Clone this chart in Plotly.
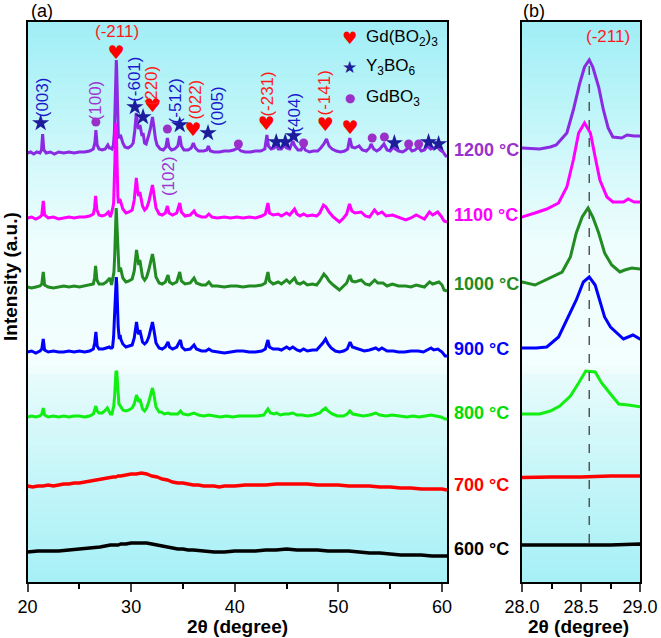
import plotly.graph_objects as go

# ---------------- data (2theta in degree, intensity in a.u. above each pattern's own baseline) -------------
temps = ["1200", "1100", "1000", "900", "800", "700", "600"]
offsets = [429, 364, 295, 230, 166, 94, 30]   # vertical stacking offsets (a.u.)

xrd_1200 = [(20.0,0),(20.3,1),(20.6,-1),(20.9,1),(21.2,0),(21.35,3),(21.46,19),(21.58,3),(21.8,0),(22.2,1),(22.6,-1),(23.0,1),(23.5,0),(24.0,1),(24.5,0),(25.0,1),(25.5,1),(26.0,2),(26.35,4),(26.5,10),(26.6,23),(26.72,8),(26.9,4),(27.2,3),(27.5,4),(27.75,8),(27.9,5),
(28.0,5),(28.15,4),(28.24,6),(28.29,8),(28.38,20),(28.435,43),(28.49,70),(28.53,86),(28.57,93),(28.60,86),(28.65,66),(28.69,43),(28.73,25),(28.77,16),(28.845,15),(28.89,18),(28.95,17),(29.0,17),
(29.2,10),(29.4,6),(29.7,5),(30.0,7),(30.2,10),(30.35,22),(30.5,40),(30.6,30),(30.7,24),(30.85,28),(30.95,22),(31.05,17),(31.15,20),(31.3,10),(31.45,9),(31.6,16),(31.7,18),(31.85,24),(32.0,34),(32.06,36),(32.2,26),(32.35,14),(32.5,8),(32.8,4),(33.1,3),(33.35,6),(33.5,15),(33.65,6),(33.9,3),(34.2,4),(34.5,7),(34.69,17),(34.85,7),(35.1,3),(35.5,3),(35.8,5),(36.0,10),(36.2,5),(36.5,2),(37.0,2),(37.3,3),(37.45,7),(37.65,2),(38.0,1),(38.5,1),(39.0,2),(39.5,2),(39.9,3),(40.3,5),(40.6,2),(41.0,1),(41.5,1),(42.0,2),(42.5,2),(42.9,4),(43.1,18),(43.25,7),(43.5,4),(43.8,5),(44.0,8),(44.2,4),(44.5,4),(44.8,8),(45.0,5),(45.3,4),(45.6,12),(45.8,7),(46.1,3),(46.4,3),(46.6,8),(46.8,3),(47.2,1),(47.6,2),(48.0,2),(48.3,5),(48.6,9),(48.85,14),(49.1,7),(49.4,4),(49.8,2),(50.2,1),(50.6,2),(50.9,4),(51.1,15),(51.3,6),(51.6,5),(52.0,7),(52.3,3),(52.7,2),(53.0,5),(53.15,9),(53.4,4),(53.7,2),(54.0,4),(54.4,9),(54.7,3),(55.0,2),(55.3,6),(55.5,4),(55.8,2),(56.2,1),(56.5,3),(56.8,6),(57.1,2),(57.4,3),(57.7,6),(58.0,2),(58.3,3),(58.6,7),(58.9,4),(59.2,5),(59.5,7),(59.8,3),(60.1,1),(60.3,-2),(60.48,-4)]

xrd_1100 = [(20.0,0),(20.4,1),(20.8,-1),(21.2,1),(21.38,3),(21.52,17),(21.65,3),(22.0,0),(22.5,1),(23.0,-1),(23.5,0),(24.0,1),(24.5,0),(25.0,1),(25.5,1),(26.0,2),(26.35,4),(26.47,10),(26.57,22),(26.7,8),(26.9,3),(27.2,2),(27.5,3),(27.8,6),
(28.0,1),(28.11,5),(28.21,9),(28.31,15),(28.38,31),(28.435,58),(28.48,85),(28.53,95),(28.58,85),(28.62,61),(28.66,38),(28.72,21),(28.77,16),(28.86,16),(28.90,19),(28.95,16),(29.0,16),
(29.2,9),(29.5,5),(29.8,6),(30.1,8),(30.3,18),(30.5,40),(30.62,28),(30.72,22),(30.84,26),(30.95,18),(31.1,12),(31.3,8),(31.5,10),(31.7,16),(31.9,26),(32.06,33),(32.2,24),(32.4,10),(32.7,4),(33.0,3),(33.3,5),(33.5,12),(33.65,5),(34.0,3),(34.4,5),(34.69,15),(34.85,6),(35.2,2),(35.7,3),(36.07,7),(36.3,3),(36.8,1),(37.2,1),(37.5,4),(37.8,1),(38.3,0),(39.0,1),(39.6,0),(40.2,1),(40.8,0),(41.4,1),(42.0,0),(42.6,2),(42.95,4),(43.2,15),(43.35,5),(43.7,3),(44.2,4),(44.5,2),(45.0,5),(45.3,3),(45.77,9),(46.0,4),(46.3,2),(46.64,4),(47.0,2),(47.5,3),(47.9,2),(48.2,5),(48.56,13),(48.8,11),(49.1,6),(49.5,1),(50.1,-4),(50.5,0),(50.8,4),(51.07,14),(51.3,7),(51.6,5),(52.2,6),(52.6,2),(53.0,1),(53.48,8),(53.8,4),(54.2,6),(54.6,2),(55.24,3),(55.8,1),(56.5,-2),(57.0,0),(57.5,3),(57.9,1),(58.3,-1),(58.78,6),(59.1,3),(59.58,6),(59.9,2),(60.2,-3),(60.48,-4)]

xrd_1000 = [(20.0,0),(20.4,-1),(20.8,0),(21.2,1),(21.38,3),(21.52,15),(21.65,2),(22.0,0),(22.5,-1),(23.0,0),(23.5,1),(24.0,0),(24.5,1),(25.0,0),(25.5,1),(26.0,2),(26.35,3),(26.47,9),(26.57,21),(26.7,7),(26.9,3),(27.3,3),(27.6,5),(27.95,9),
(28.0,5),(28.11,2),(28.24,9),(28.34,15),(28.41,30),(28.46,54),(28.51,70),(28.56,79),(28.60,70),(28.65,54),(28.70,34),(28.76,22),(28.83,15),(28.87,17),(28.93,19),(29.0,18),
(29.2,9),(29.5,5),(29.8,6),(30.1,8),(30.3,16),(30.52,37),(30.65,25),(30.74,22),(30.84,27),(30.95,18),(31.1,10),(31.3,7),(31.5,10),(31.7,17),(31.9,27),(32.06,33),(32.2,25),(32.4,10),(32.7,4),(33.0,3),(33.3,5),(33.56,12),(33.7,5),(34.0,3),(34.4,5),(34.69,15),(34.85,6),(35.2,3),(35.7,4),(36.07,9),(36.3,4),(36.8,2),(37.2,2),(37.5,5),(37.8,1),(38.3,1),(39.0,0),(39.6,1),(40.2,1),(40.8,0),(41.4,1),(42.0,1),(42.6,2),(42.95,4),(43.2,15),(43.35,6),(43.7,3),(44.2,5),(44.5,3),(45.0,7),(45.3,4),(45.77,9),(46.0,4),(46.3,3),(46.64,5),(47.0,2),(47.5,3),(47.9,2),(48.2,6),(48.6,13),(48.85,10),(49.1,6),(49.5,2),(50.1,-3),(50.5,1),(50.8,4),(51.1,12),(51.3,6),(51.6,5),(52.2,7),(52.6,3),(53.0,2),(53.5,7),(53.8,4),(54.3,4),(54.7,1),(55.2,3),(55.8,1),(56.5,1),(57.0,0),(57.5,2),(58.0,1),(58.3,0),(58.8,5),(59.1,3),(59.7,5),(60.0,2),(60.2,-3),(60.48,-4)]

xrd_900 = [(20.0,0),(20.4,1),(20.8,-1),(21.2,1),(21.38,3),(21.52,13),(21.65,2),(22.0,0),(22.5,1),(23.0,0),(23.5,0),(24.0,1),(24.5,0),(25.0,1),(25.5,0),(26.0,1),(26.35,3),(26.48,9),(26.6,20),(26.72,6),(26.9,3),(27.3,3),(27.6,4),(27.9,5),
(28.0,4),(28.12,4),(28.21,5),(28.31,15),(28.38,32),(28.46,52),(28.52,70),(28.57,75),(28.62,67),(28.66,52),(28.70,35),(28.75,25),(28.86,13),(28.94,17),(29.0,13),
(29.2,8),(29.5,5),(29.8,6),(30.1,7),(30.3,14),(30.52,30),(30.65,20),(30.74,18),(30.84,22),(30.95,15),(31.1,10),(31.3,8),(31.5,10),(31.7,15),(31.9,24),(32.06,30),(32.2,22),(32.4,9),(32.7,4),(33.0,3),(33.3,5),(33.56,10),(33.7,5),(34.0,3),(34.4,5),(34.76,12),(34.9,5),(35.2,2),(35.7,3),(36.07,7),(36.3,3),(36.8,1),(37.2,1),(37.5,3),(37.8,1),(38.3,0),(39.0,-1),(39.6,0),(40.2,1),(40.8,1),(41.4,0),(42.0,0),(42.6,1),(42.95,3),(43.2,12),(43.35,5),(43.7,3),(44.2,3),(44.5,2),(45.0,5),(45.3,3),(45.6,5),(46.0,2),(46.3,1),(46.64,3),(47.0,1),(47.5,2),(47.9,2),(48.2,5),(48.5,9),(48.76,13),(49.0,8),(49.3,4),(49.7,1),(50.1,0),(50.5,1),(50.85,3),(51.13,10),(51.35,5),(51.6,4),(52.0,3),(52.5,1),(53.0,2),(53.6,4),(53.9,2),(54.2,4),(54.7,1),(55.3,1),(55.8,0),(56.4,0),(57.0,1),(57.7,1),(58.2,0),(58.6,2),(58.94,4),(59.2,2),(59.6,3),(60.0,0),(60.3,-4),(60.48,-4)]

xrd_800 = [(20.0,-1),(20.4,0),(20.8,-1),(21.2,0),(21.38,2),(21.52,8),(21.65,1),(22.0,-1),(22.5,0),(23.0,-1),(23.5,0),(24.0,-1),(24.5,0),(25.0,0),(25.5,-1),(26.0,0),(26.35,2),(26.48,6),(26.6,10),(26.72,5),(26.9,3),(27.2,3),(27.45,5),(27.7,8),(27.85,4),
(28.0,2),(28.15,2),(28.24,5),(28.32,10),(28.41,20),(28.48,33),(28.54,45),(28.62,44),(28.675,33),(28.75,22),(28.82,12),(28.90,11),(29.0,9),
(29.2,6),(29.5,5),(29.8,6),(30.1,8),(30.3,12),(30.52,21),(30.65,15),(30.74,14),(30.84,17),(30.95,12),(31.1,7),(31.3,5),(31.5,8),(31.7,14),(31.9,23),(32.06,28),(32.2,21),(32.4,9),(32.7,4),(32.9,4),(33.2,2),(33.56,3),(33.8,2),(34.2,2),(34.5,2),(34.76,5),(35.0,2),(35.5,1),(36.07,3),(36.5,1),(37.0,0),(37.5,1),(38.0,0),(38.6,-1),(39.2,0),(39.8,-1),(40.4,0),(41.0,0),(41.6,0),(42.2,0),(42.8,1),(43.2,7),(43.45,3),(43.8,2),(44.0,3),(44.4,1),(44.8,2),(45.2,2),(45.6,3),(46.0,1),(46.5,1),(47.0,0),(47.6,1),(48.2,3),(48.5,6),(48.76,8),(49.0,5),(49.4,2),(49.9,0),(50.5,0),(50.85,2),(51.1,5),(51.4,2),(51.8,1),(52.4,0),(53.0,1),(53.6,3),(54.0,1),(54.6,0),(55.2,1),(55.8,0),(56.6,-1),(57.2,0),(57.8,-1),(58.4,0),(58.94,1),(59.4,0),(59.9,-1),(60.3,-3),(60.48,-3)]

xrd_700 = [(20.0,2),(20.5,1),(21.0,2),(21.5,2),(22.0,3),(22.5,2),(23.0,3),(23.5,4),(24.0,4),(24.5,5),(25.0,5),(25.5,6),(26.0,7),(26.5,8),(27.0,9),(27.5,10),(28.0,11),(28.25,11),(28.5,11),(28.75,12),(29.0,12),(29.5,13),(30.0,14),(30.5,14),(31.0,15),(31.5,14),(32.0,12),(32.5,11),(33.0,9),(33.5,8),(34.0,6),(34.5,5),(35.0,5),(35.5,4),(36.0,3),(36.5,3),(37.0,2),(37.5,2),(38.0,2),(38.5,1),(39.0,2),(39.5,2),(40.0,2),(41.0,3),(42.0,3),(43.0,3),(44.0,4),(45.0,4),(46.0,4),(47.0,4),(48.0,3),(49.0,3),(50.0,3),(51.0,2),(52.0,2),(53.0,2),(54.0,1),(55.0,1),(56.0,0),(57.0,0),(58.0,-1),(59.0,-1),(60.0,-1),(60.48,-2)]

xrd_600 = [(20.0,0),(21.0,1),(22.0,1),(23.0,1),(24.0,2),(25.0,3),(26.0,4),(27.0,5),(28.0,7),(28.25,7),(28.5,7),(28.75,7),(29.0,8),(29.5,8),(30.0,9),(30.5,9),(31.0,9),(31.5,9),(32.0,8),(32.5,7),(33.0,6),(33.5,5),(34.0,4),(34.5,3),(35.0,3),(35.5,2),(36.0,2),(37.0,1),(38.0,0),(39.0,0),(40.0,1),(41.0,1),(42.0,1),(43.0,2),(44.0,2),(45.0,3),(46.0,2),(47.0,2),(48.0,2),(49.0,1),(50.0,1),(51.0,1),(52.0,0),(53.0,-1),(54.0,-1),(55.0,-2),(56.0,-3),(57.0,-3),(58.0,-3),(59.0,-4),(60.0,-4),(60.48,-4)]

patterns = [xrd_1200, xrd_1100, xrd_1000, xrd_900, xrd_800, xrd_700, xrd_600]

# phase markers (2theta, height a.u.)
heart_x = [28.53, 32.06, 35.97, 43.04, 48.73, 51.13]
heart_y = [528, 475, 451, 457, 456, 453]
star_x = [21.27, 30.36, 31.15, 34.69, 37.42, 44.0, 44.87, 45.67, 55.4, 58.7, 59.67]
star_y = [459, 475, 465, 457, 449, 440, 440, 446, 439, 440, 438]
dot_x = [26.6, 33.5, 40.35, 46.64, 53.26, 54.44, 56.78, 57.75]
dot_y = [460, 453, 438, 439, 444, 445, 438, 438]

# hkl labels: (text, 2theta, height, phase)
hkl_labels = [("(003)", 21.52, 485, "Y"), ("(100)", 26.65, 482, "G"), ("(-601)", 30.36, 503, "Y"),
              ("(220)", 32.06, 497, "R"), ("(-512)", 34.37, 481, "Y"), ("(022)", 36.3, 483, "R"),
              ("(005)", 38.38, 476, "Y"), ("(-231)", 43.17, 488, "R"), ("(404)", 45.77, 469, "Y"),
              ("(-141)", 48.66, 489, "R"), ("(102)", 33.66, 406, "G")]
peak_211 = 28.57

# ---------------- style ----------------
W, H = 661, 638
line_colors = ["#8A2BE2", "#FF00FF", "#228B22", "#0000FF", "#11EE11", "#FF0000", "#000000"]
label_colors = ["#9932CC", "#FF00FF", "#228B22", "#0000FF", "#00DD00", "#FF0000", "#000000"]
line_widths = [3, 3, 3, 3, 3, 3.4, 3.4]
FONT = "Liberation Sans, Arial, sans-serif"
RED, NAVY, BLUE, PURP = "#FF1A1A", "#1C1C9C", "#1A1ACC", "#A035D0"
phase_color = {"Y": BLUE, "G": PURP, "R": RED}

L_X0, L_X1 = 27.5, 447.0
R_X0, R_X1 = 522.0, 640.0
TOP, BOT = 22.0, 582.0

def px(x):
    return x / W

def py(y):
    return 1 - y / H

fig = go.Figure()

for i, pat in enumerate(patterns):
    xs = [p[0] for p in pat]
    ys = [p[1] + offsets[i] for p in pat]
    for xa, ya in (("x", "y"), ("x2", "y2")):
        fig.add_trace(go.Scatter(x=xs, y=ys, mode="lines", xaxis=xa, yaxis=ya,
                                 line=dict(color=line_colors[i], width=line_widths[i]),
                                 showlegend=False, hoverinfo="skip"))

fig.add_trace(go.Scatter(x=heart_x, y=heart_y, mode="text", text=["\u2665"] * len(heart_x),
                         textfont=dict(family="DejaVu Sans", size=19, color="#FF0000"),
                         showlegend=False, hoverinfo="skip"))
fig.add_trace(go.Scatter(x=star_x, y=star_y, mode="markers",
                         marker=dict(symbol="star", size=13, color=NAVY, line=dict(width=0)),
                         showlegend=False, hoverinfo="skip"))
fig.add_trace(go.Scatter(x=dot_x, y=dot_y, mode="markers",
                         marker=dict(symbol="circle", size=9, color="#9B30C8", line=dict(width=0)),
                         showlegend=False, hoverinfo="skip"))

# background gradient
stops = [(22, (160, 238, 246)), (100, (186, 244, 248)), (170, (214, 249, 251)), (240, (238, 253, 253)),
         (365, (243, 254, 254)), (380, (230, 251, 252)), (470, (200, 246, 249)), (582, (165, 240, 246))]

def col_at(y):
    for (y0, c0), (y1, c1) in zip(stops[:-1], stops[1:]):
        if y0 <= y <= y1:
            t = (y - y0) / (y1 - y0)
            return "rgb(%d,%d,%d)" % tuple(round(a + (b - a) * t) for a, b in zip(c0, c1))
    return "rgb(%d,%d,%d)" % stops[-1][1]

shapes = []
step = 8
yy = TOP
while yy < BOT:
    y2 = min(BOT, yy + step)
    c = col_at((yy + y2) / 2)
    for x0, x1 in ((L_X0, L_X1), (R_X0, R_X1)):
        shapes.append(dict(type="rect", xref="paper", yref="paper", x0=px(x0), x1=px(x1),
                           y0=py(y2 + 0.5), y1=py(yy), fillcolor=c, line=dict(width=0), layer="below"))
    yy = y2

shapes.append(dict(type="line", xref="x2", yref="y2", x0=peak_211, x1=peak_211, y0=39, y1=524,
                   line=dict(color="#555555", width=1.5, dash="dash")))

C = dict(xanchor="center", yanchor="middle", showarrow=False)
ann = []
for t, xv, yv, ph in hkl_labels:
    ann.append(dict(x=xv, y=yv, xref="x", yref="y", text=t, textangle=-90, **C,
                    font=dict(family=FONT, size=17, color=phase_color[ph])))
ann.append(dict(x=28.6, y=550, xref="x", yref="y", text="(-211)", **C,
                font=dict(family=FONT, size=17, color=RED)))
ann.append(dict(x=28.73, y=545, xref="x2", yref="y2", text="(-211)", **C,
                font=dict(family=FONT, size=17, color=RED)))

for i, t in enumerate(temps):
    ann.append(dict(x=px(452), y=offsets[i] + 3, xref="paper", yref="y", xanchor="left",
                    yanchor="middle", text="<b>%s \u00b0C</b>" % t, showarrow=False,
                    font=dict(family=FONT, size=18, color=label_colors[i])))

# legend
leg = [("\u2665", "#FF0000", "Gd(BO<sub>2</sub>)<sub>3</sub>", 38, 17),
       ("\u2605", NAVY, "Y<sub>3</sub>BO<sub>6</sub>", 67, 17),
       ("\u25cf", "#9B30C8", "GdBO<sub>3</sub>", 98, 12)]
for sym, c, txt, yp, ss in leg:
    ann.append(dict(x=px(350), y=py(yp), xref="paper", yref="paper", text=sym, **C,
                    font=dict(family="DejaVu Sans", size=ss, color=c)))
    ann.append(dict(x=px(364), y=py(yp), xref="paper", yref="paper", xanchor="left",
                    yanchor="middle", text=txt, showarrow=False,
                    font=dict(family=FONT, size=17, color="black")))

ann.append(dict(x=px(42), y=py(11), xref="paper", yref="paper", text="(a)", **C,
                font=dict(family=FONT, size=18, color="black")))
ann.append(dict(x=px(534), y=py(11), xref="paper", yref="paper", text="(b)", **C,
                font=dict(family=FONT, size=18, color="black")))
ann.append(dict(x=px(237), y=py(626), xref="paper", yref="paper", text="<b>2\u03b8 (degree)</b>", **C,
                font=dict(family=FONT, size=19, color="black")))
ann.append(dict(x=px(578), y=py(626), xref="paper", yref="paper", text="<b>2\u03b8 (degree)</b>", **C,
                font=dict(family=FONT, size=19, color="black")))
ann.append(dict(x=px(10), y=py(277), xref="paper", yref="paper", text="<b>Intensity (a.u.)</b>",
                textangle=-90, **C, font=dict(family=FONT, size=19, color="black")))

axis_common = dict(showline=True, linecolor="black", linewidth=1.5, mirror=True, showgrid=False,
                   zeroline=False)
ydom = [py(BOT), py(TOP)]
fig.update_layout(
    width=W, height=H, margin=dict(l=0, r=0, t=0, b=0),
    paper_bgcolor="white", plot_bgcolor="rgba(0,0,0,0)", template="none",
    font=dict(family=FONT, size=18, color="black"),
    xaxis=dict(domain=[px(L_X0), px(L_X1)], range=[20, 60.48], anchor="y",
               tickvals=[20, 30, 40, 50, 60], ticks="outside", ticklen=8, tickwidth=1.5,
               tickfont=dict(family=FONT, size=18), automargin=False,
               minor=dict(tickvals=[25, 35, 45, 55], ticks="outside", ticklen=5, tickwidth=1.5,
                          tickcolor="black"),
               **axis_common),
    yaxis=dict(domain=ydom, range=[0, 560], anchor="x", showticklabels=False, ticks="",
               automargin=False, **axis_common),
    xaxis2=dict(domain=[px(R_X0), px(R_X1)], range=[28, 29], anchor="y2",
                tickvals=[28, 28.5, 29], ticktext=["28.0", "28.5", "29.0"], ticks="outside",
                ticklen=8, tickwidth=1.5, tickfont=dict(family=FONT, size=18), automargin=False,
                minor=dict(tickvals=[28.25, 28.75], ticks="outside", ticklen=5, tickwidth=1.5,
                           tickcolor="black"),
                **axis_common),
    yaxis2=dict(domain=ydom, range=[0, 560], anchor="x2", showticklabels=False, ticks="",
                automargin=False, **axis_common),
    shapes=shapes, annotations=ann,
)

fig.write_html("out.html")
